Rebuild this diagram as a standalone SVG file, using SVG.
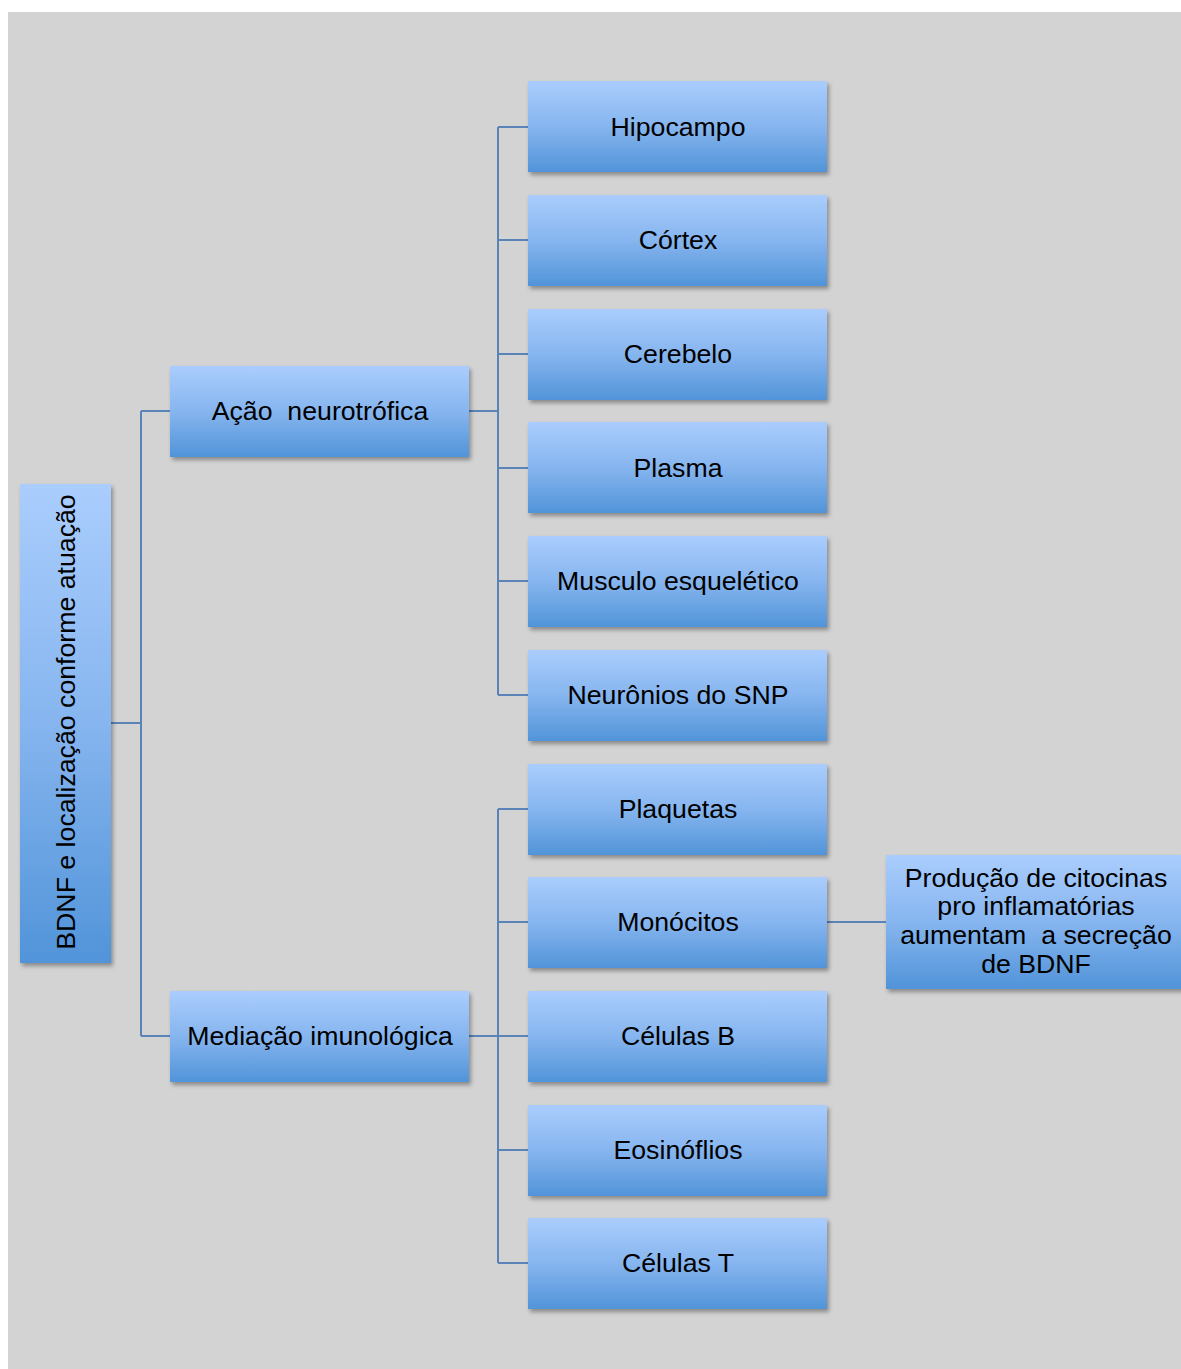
<svg xmlns="http://www.w3.org/2000/svg" width="1181" height="1369" viewBox="0 0 1181 1369">
  <defs>
    <linearGradient id="boxFill" x1="0" y1="0" x2="0" y2="1">
      <stop offset="0" stop-color="#aacdfd"/>
      <stop offset="0.5" stop-color="#86b5ef"/>
      <stop offset="1" stop-color="#5194d9"/>
    </linearGradient>
    <filter id="shadow" x="-10%" y="-10%" width="120%" height="130%">
      <feDropShadow dx="2" dy="3" stdDeviation="2" flood-color="#000" flood-opacity="0.35"/>
    </filter>
    <style>
      .box { fill: url(#boxFill); filter: url(#shadow); }
      .lbl { font-family: "Liberation Sans", Arial, sans-serif; font-size: 26.7px; fill: #000; text-anchor: middle; }
      .link { stroke: #5a84b8; stroke-width: 2; fill: none; }
    </style>
  </defs>

  <rect x="0" y="0" width="1181" height="1369" fill="#ffffff"/>
  <rect x="8" y="12" width="1173" height="1357" fill="#d3d3d3"/>

  <!-- connectors -->
  <g id="connectors">
    <path class="link" d="M111 723 H141 M141 411 V1036 M141 411 H170 M141 1036 H170"/>
    <path class="link" d="M469 411 H498 M498 127 V695 M498 127 H528 M498 240 H528 M498 354 H528 M498 468 H528 M498 581 H528 M498 695 H528"/>
    <path class="link" d="M469 1036 H528 M498 809 V1263 M498 809 H528 M498 922 H528 M498 1150 H528 M498 1263 H528"/>
    <path class="link" d="M827 922 H886"/>
  </g>

  <!-- root -->
  <g id="root">
    <rect class="box" x="20" y="484" width="91" height="479"/>
    <text class="lbl" transform="translate(75 722) rotate(-90)">BDNF e localização conforme atuação</text>
  </g>

  <!-- second level -->
  <g id="acao">
    <rect class="box" x="170" y="366" width="299" height="91"/>
    <text class="lbl" x="320" y="420" xml:space="preserve">Ação  neurotrófica</text>
  </g>
  <g id="mediacao">
    <rect class="box" x="170" y="991" width="299" height="91"/>
    <text class="lbl" x="320" y="1045">Mediação imunológica</text>
  </g>

  <!-- third level -->
  <g id="hipocampo">
    <rect class="box" x="528" y="81" width="299" height="91"/>
    <text class="lbl" x="678" y="136">Hipocampo</text>
  </g>
  <g id="cortex">
    <rect class="box" x="528" y="195" width="299" height="91"/>
    <text class="lbl" x="678" y="249">Córtex</text>
  </g>
  <g id="cerebelo">
    <rect class="box" x="528" y="309" width="299" height="91"/>
    <text class="lbl" x="678" y="363">Cerebelo</text>
  </g>
  <g id="plasma">
    <rect class="box" x="528" y="422" width="299" height="91"/>
    <text class="lbl" x="678" y="477">Plasma</text>
  </g>
  <g id="musculo">
    <rect class="box" x="528" y="536" width="299" height="91"/>
    <text class="lbl" x="678" y="590">Musculo esquelético</text>
  </g>
  <g id="neuronios">
    <rect class="box" x="528" y="650" width="299" height="91"/>
    <text class="lbl" x="678" y="704">Neurônios do SNP</text>
  </g>
  <g id="plaquetas">
    <rect class="box" x="528" y="764" width="299" height="91"/>
    <text class="lbl" x="678" y="818">Plaquetas</text>
  </g>
  <g id="monocitos">
    <rect class="box" x="528" y="877" width="299" height="91"/>
    <text class="lbl" x="678" y="931">Monócitos</text>
  </g>
  <g id="celulasB">
    <rect class="box" x="528" y="991" width="299" height="91"/>
    <text class="lbl" x="678" y="1045">Células B</text>
  </g>
  <g id="eosinofilos">
    <rect class="box" x="528" y="1105" width="299" height="91"/>
    <text class="lbl" x="678" y="1159">Eosinóflios</text>
  </g>
  <g id="celulasT">
    <rect class="box" x="528" y="1218" width="299" height="91"/>
    <text class="lbl" x="678" y="1272">Células T</text>
  </g>

  <!-- fourth level -->
  <g id="citocinas">
    <rect class="box" x="886" y="855" width="300" height="134"/>
    <text class="lbl" x="1036" y="887">Produção de citocinas</text>
    <text class="lbl" x="1036" y="915">pro inflamatórias</text>
    <text class="lbl" x="1036" y="944" xml:space="preserve">aumentam  a secreção</text>
    <text class="lbl" x="1036" y="973">de BDNF</text>
  </g>
</svg>
